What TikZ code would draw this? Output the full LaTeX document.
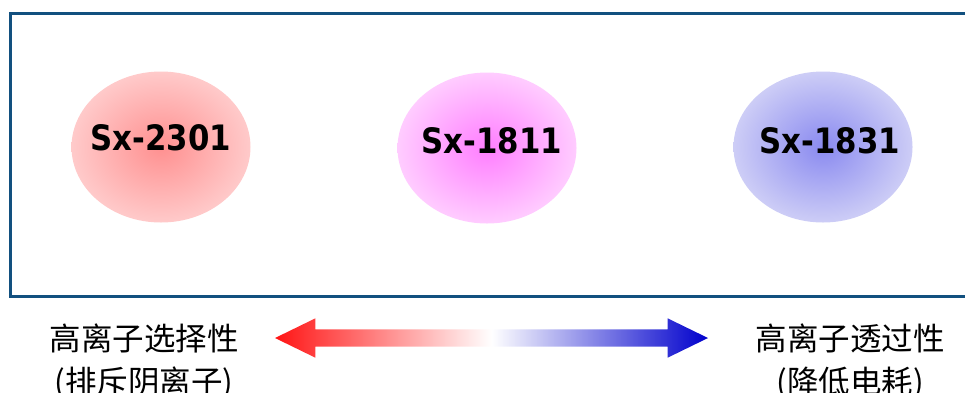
\documentclass[tikz,border=0pt]{standalone}
\usepackage{fontspec}
\setmainfont{DejaVu Sans}
\newfontfamily\cjk{Noto Sans CJK SC}
\newfontfamily\tagfont[FakeStretch=0.88]{DejaVu Sans Bold}
\usepackage{xcolor,tikz}
\usetikzlibrary{shapes.geometric,shapes.arrows,positioning}
\definecolor{frame}{HTML}{12507F}
\definecolor{redin}{HTML}{FF9090}
\definecolor{redout}{HTML}{FFCACA}
\definecolor{pinkin}{HTML}{FF7EFF}
\definecolor{pinkout}{HTML}{FFCCFF}
\definecolor{bluein}{HTML}{8A8AF0}
\definecolor{blueout}{HTML}{CDCDF6}
\definecolor{tipred}{HTML}{FF1414}
\definecolor{tipblue}{HTML}{0000CC}

\begin{document}
\begin{tikzpicture}[x=1pt,y=-1pt,
blob/.style={ellipse,minimum width=179pt,minimum height=151pt,inner sep=0pt,shading=radial},
tag/.style={font=\tagfont\fontsize{35}{35}\selectfont,inner sep=0pt},
side/.style={font=\cjk\fontsize{31.5}{43}\selectfont,align=center}]
\useasboundingbox (0,0) rectangle (965,392);
\draw[frame,line width=3pt] (10,13) rectangle (980,296);
\node[blob,inner color=redin,outer color=redout] (s2301) at (161,147) {};
\node[blob,inner color=pinkin,outer color=pinkout] (s1811) at (487,148) {};
\node[blob,inner color=bluein,outer color=blueout] (s1831) at (823,147) {};
\node[tag] at ([yshift=9pt]s2301.center) {Sx-2301};
\node[tag] at ([xshift=5pt,yshift=7pt]s1811.center) {Sx-1811};
\node[tag] at ([xshift=7pt,yshift=6pt]s1831.center) {Sx-1831};
\node[side] (anion) at (144,362) {高离子选择性\\(排斥阴离子)};
\node[side] (power) at (850,362) {高离子透过性\\(降低电耗)};
\node[double arrow,minimum height=433pt,minimum width=39pt,inner xsep=0pt,inner ysep=8.5pt,
double arrow head extend=11pt,double arrow tip angle=52,
left color=tipred,right color=tipblue,middle color=white] (range) at (491.5,338) {};
\end{tikzpicture}
\end{document}
